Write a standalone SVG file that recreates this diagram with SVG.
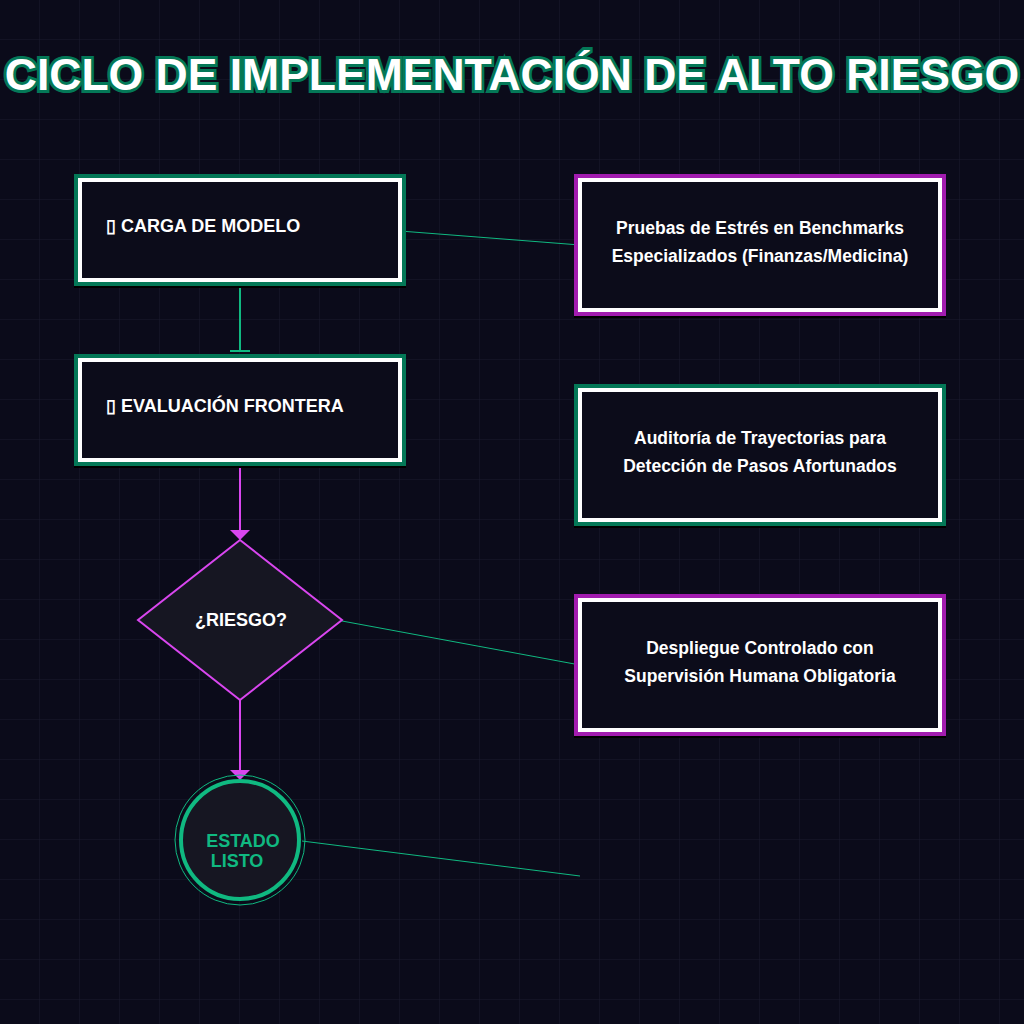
<svg xmlns="http://www.w3.org/2000/svg" width="1024" height="1024" viewBox="0 0 1024 1024">
<defs>
<pattern id="grid" width="40" height="40" patternUnits="userSpaceOnUse"><path d="M40 0V40M0 40H40" fill="none" stroke="#1a1a2e" stroke-width="1"/></pattern>
</defs>
<style>
.t{font-family:"Liberation Sans",Arial,sans-serif;font-weight:bold;fill:#fff}
.box{fill:#0c0c1a;stroke:#fff;stroke-width:4}
.link{stroke:#10b981;stroke-width:1;fill:none}
</style>
<rect width="1024" height="1024" fill="#0b0b1a"/>
<rect width="1024" height="1024" fill="url(#grid)"/>
<text x="512" y="90" text-anchor="middle" class="t" font-size="44.5" stroke="#047857" stroke-width="6" paint-order="stroke">CICLO DE IMPLEMENTACIÓN DE ALTO RIESGO</text>
<g id="connectors">
<line class="link" x1="400" y1="231" x2="580" y2="245"/>
<line class="link" x1="342" y1="621" x2="580" y2="665"/>
<line class="link" x1="302" y1="841" x2="580" y2="876"/>
<line x1="240" y1="282" x2="240" y2="350" stroke="#10b981" stroke-width="2"/>
<line x1="230" y1="351" x2="250" y2="351" stroke="#10b981" stroke-width="2"/>
<line x1="240" y1="462" x2="240" y2="532" stroke="#d946ef" stroke-width="2"/>
<path d="M230 530H250L240 540Z" fill="#d946ef"/>
<line x1="240" y1="700" x2="240" y2="772" stroke="#d946ef" stroke-width="2"/>
<path d="M230 770H250L240 780Z" fill="#d946ef"/>
</g>
<g id="n1">
<rect x="74" y="174" width="332" height="114" fill="#000"/>
<rect x="77" y="177" width="326" height="106" fill="none" stroke="#047857" stroke-width="6"/>
<rect class="box" x="80" y="180" width="320" height="100"/>
<text x="106" y="232" class="t" font-size="18">▯ CARGA DE MODELO</text>
</g>
<g id="n2">
<rect x="74" y="354" width="332" height="114" fill="#000"/>
<rect x="77" y="357" width="326" height="106" fill="none" stroke="#047857" stroke-width="6"/>
<rect class="box" x="80" y="360" width="320" height="100"/>
<text x="106" y="412" class="t" font-size="18">▯ EVALUACIÓN FRONTERA</text>
</g>
<g id="n3">
<path d="M240 540L342 620L240 700L138 620Z" fill="#161622" stroke="#d946ef" stroke-width="2"/>
<text x="241" y="626" text-anchor="middle" class="t" font-size="18">¿RIESGO?</text>
</g>
<g id="n4">
<circle cx="240" cy="840" r="65" fill="none" stroke="#10b981" stroke-width="1"/>
<circle cx="240" cy="840" r="59" fill="#161622" stroke="#10b981" stroke-width="4"/>
<text x="243" y="847" text-anchor="middle" class="t" font-size="18" style="fill:#10b981">ESTADO</text>
<text x="237" y="867" text-anchor="middle" class="t" font-size="18" style="fill:#10b981">LISTO</text>
</g>
<g id="n5">
<rect x="574" y="174" width="372" height="144" fill="#000"/>
<rect x="577" y="177" width="366" height="136" fill="none" stroke="#a21caf" stroke-width="6"/>
<rect class="box" x="580" y="180" width="360" height="130"/>
<text x="760" y="234" text-anchor="middle" class="t" font-size="17.5">Pruebas de Estrés en Benchmarks</text>
<text x="760" y="262" text-anchor="middle" class="t" font-size="17.5">Especializados (Finanzas/Medicina)</text>
</g>
<g id="n6">
<rect x="574" y="384" width="372" height="144" fill="#000"/>
<rect x="577" y="387" width="366" height="136" fill="none" stroke="#047857" stroke-width="6"/>
<rect class="box" x="580" y="390" width="360" height="130"/>
<text x="760" y="444" text-anchor="middle" class="t" font-size="17.5">Auditoría de Trayectorias para</text>
<text x="760" y="472" text-anchor="middle" class="t" font-size="17.5">Detección de Pasos Afortunados</text>
</g>
<g id="n7">
<rect x="574" y="594" width="372" height="144" fill="#000"/>
<rect x="577" y="597" width="366" height="136" fill="none" stroke="#a21caf" stroke-width="6"/>
<rect class="box" x="580" y="600" width="360" height="130"/>
<text x="760" y="654" text-anchor="middle" class="t" font-size="17.5">Despliegue Controlado con</text>
<text x="760" y="682" text-anchor="middle" class="t" font-size="17.5">Supervisión Humana Obligatoria</text>
</g>
</svg>
